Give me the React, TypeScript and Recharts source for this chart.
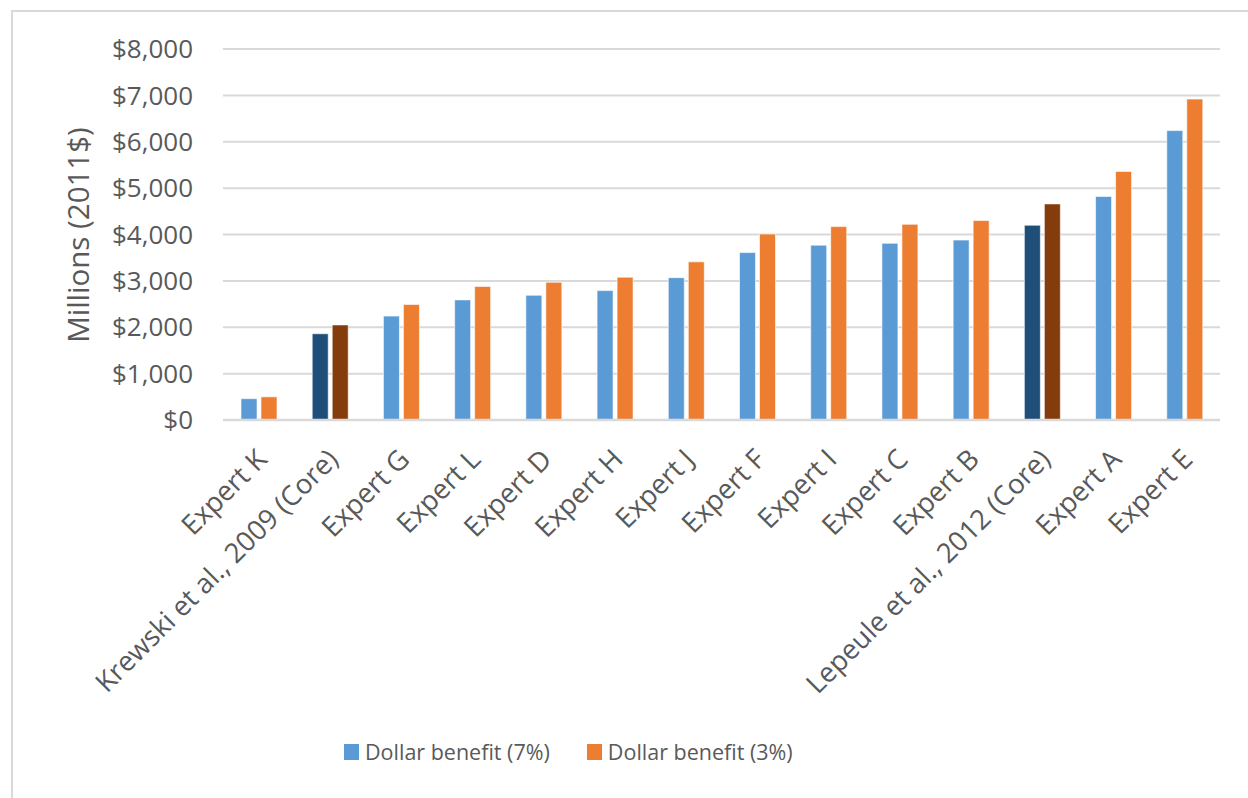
import React from 'react';
import { BarChart, Bar, XAxis, YAxis, CartesianGrid, Cell } from 'recharts';

const categories = [
  'Expert K',
  'Krewski et al., 2009 (Core)',
  'Expert G',
  'Expert L',
  'Expert D',
  'Expert H',
  'Expert J',
  'Expert F',
  'Expert I',
  'Expert C',
  'Expert B',
  'Lepeule et al., 2012 (Core)',
  'Expert A',
  'Expert E',
];
const benefit7 = [460, 1860, 2240, 2590, 2690, 2790, 3070, 3610, 3770, 3810, 3880, 4200, 4820, 6240];
const benefit3 = [500, 2050, 2490, 2880, 2970, 3080, 3410, 4010, 4170, 4220, 4300, 4660, 5360, 6920];
const yTicks = [0, 1000, 2000, 3000, 4000, 5000, 6000, 7000, 8000];
const highlighted = ['Krewski et al., 2009 (Core)', 'Lepeule et al., 2012 (Core)'];

const data = categories.map((name, i) => ({ name, b7: benefit7[i], b3: benefit3[i] }));

const FONT = '"Open Sans", "Noto Sans", sans-serif';
const TEXT = '#595959';
const BLUE = '#5B9BD5';
const ORANGE = '#ED7D31';
const DARK_BLUE = '#1F4E79';
const DARK_ORANGE = '#843C0C';

const XTick = (props: any) => {
  const { x, y, payload } = props;
  const ax = x + 10;
  const ay = y + 33;
  return (
    <text
      x={ax}
      y={ay}
      transform={`rotate(-45, ${ax}, ${ay})`}
      textAnchor="end"
      fill={TEXT}
      fontSize={27.5}
      fontFamily={FONT}
    >
      {payload.value}
    </text>
  );
};

const YLabel = () => (
  <text
    x={89}
    y={235}
    transform="rotate(-90, 89, 235)"
    textAnchor="middle"
    fill={TEXT}
    fontSize={29.5}
    fontFamily={FONT}
  >
    Millions (2011$)
  </text>
);

export default function App() {
  return (
    <div style={{ position: 'absolute', left: 0, top: 0, width: 1248, height: 798, overflow: 'hidden', background: '#fff' }}>
      <div
        style={{
          position: 'absolute',
          left: 11,
          top: 10,
          width: 1400,
          height: 900,
          borderLeft: '2px solid #D9D9D9',
          borderTop: '2px solid #D9D9D9',
        }}
      />
      <div style={{ position: 'absolute', left: 0, top: 0 }}>
        <BarChart
          width={1248}
          height={798}
          data={data}
          margin={{ top: 49, right: 28, left: 0, bottom: 0 }}
          barSize={16}
          barGap={4}
        >
          <CartesianGrid vertical={false} stroke="#D9D9D9" strokeWidth={2} />
          <XAxis
            dataKey="name"
            height={378}
            interval={0}
            tick={<XTick />}
            tickLine={false}
            axisLine={{ stroke: '#D9D9D9', strokeWidth: 2.5 }}
          />
          <YAxis
            width={223}
            domain={[0, 8000]}
            ticks={yTicks}
            interval={0}
            tickSize={0}
            tickMargin={30}
            axisLine={false}
            tickLine={false}
            tickFormatter={(v: number) => `$${v.toLocaleString('en-US')}`}
            tick={{ fill: TEXT, fontSize: 26, fontFamily: FONT }}
            label={{ content: () => <YLabel /> }}
          />
          <Bar dataKey="b7" name="Dollar benefit (7%)" fill={BLUE} stroke="#ffffff" strokeOpacity={0.6} strokeWidth={1} isAnimationActive={false}>
            {data.map((d) => (
              <Cell key={d.name} fill={highlighted.includes(d.name) ? DARK_BLUE : BLUE} />
            ))}
          </Bar>
          <Bar dataKey="b3" name="Dollar benefit (3%)" fill={ORANGE} stroke="#ffffff" strokeOpacity={0.6} strokeWidth={1} isAnimationActive={false}>
            {data.map((d) => (
              <Cell key={d.name} fill={highlighted.includes(d.name) ? DARK_ORANGE : ORANGE} />
            ))}
          </Bar>
        </BarChart>
      </div>
      <div
        style={{
          position: 'absolute',
          left: 344,
          top: 737,
          display: 'flex',
          alignItems: 'center',
          fontFamily: FONT,
          fontSize: 21.5,
          color: TEXT,
          whiteSpace: 'nowrap',
        }}
      >
        <span style={{ width: 15, height: 16, background: BLUE, display: 'inline-block', marginRight: 6 }} />
        <span>Dollar benefit (7%)</span>
        <span style={{ width: 15, height: 16, background: ORANGE, display: 'inline-block', marginLeft: 37, marginRight: 6 }} />
        <span>Dollar benefit (3%)</span>
      </div>
    </div>
  );
}
